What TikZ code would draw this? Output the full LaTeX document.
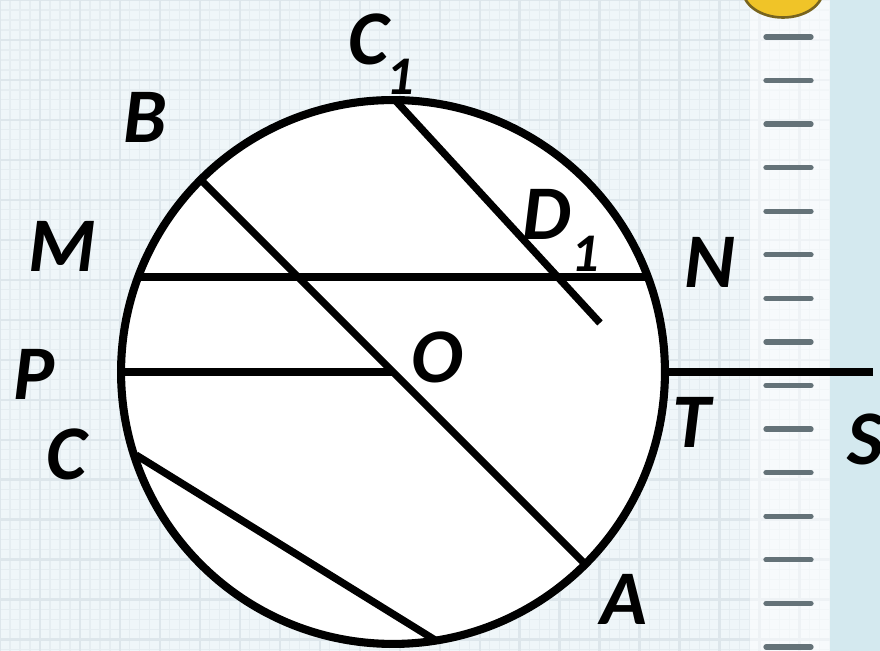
\documentclass[tikz,border=0pt]{standalone}
\usepackage{fontspec}
\setmainfont{Carlito}
\begin{document}
\begin{tikzpicture}[x=0.02cm, y=-0.02cm, line cap=round, line join=round,
    every node/.style={inner sep=0pt},
    ptlabel/.style={anchor=base, font=\fontsize{44}{50}\selectfont\bfseries\itshape},
    chord/.style={line width=4.2pt, line cap=butt}]
  \definecolor{paperBg}{RGB}{239,246,249}
  \definecolor{gridLine}{RGB}{229,237,241}
  \definecolor{gridMajor}{RGB}{221,230,235}
  \definecolor{stripBlue}{RGB}{212,233,239}
  \definecolor{dashGray}{RGB}{100,114,120}
  \definecolor{blobYellow}{RGB}{240,196,40}
  \definecolor{blobEdge}{RGB}{120,100,30}
  \newcommand{\subfont}{\fontsize{31}{31}\selectfont}
  \useasboundingbox (0,0) rectangle (880,651);
  % ==== notebook background ====
  \fill[paperBg] (0,0) rectangle (880,651);
  \draw[gridLine, line width=0.6pt, step=0.2cm] (0,0) grid (830,651);
  \draw[gridMajor, line width=1.6pt, step=0.8cm] (0,0) grid (830,651);
  \fill[white, opacity=0.5] (750,0) rectangle (830,651);
  \fill[stripBlue] (830,0) rectangle (880,651);
  \foreach \i in {0,...,14}{
    \draw[dashGray, line width=3pt] ({766},{37+43.57*\i}) -- ({811},{37+43.57*\i});
  }
  \fill[blobYellow, draw=blobEdge, line width=1.5pt] (783,-10) ellipse [x radius=0.8cm, y radius=0.55cm];
  % ==== circle and its points ====
  \coordinate (O) at (393,372);
  \coordinate (B) at (201,180);
  \coordinate (A) at (585,564);
  \coordinate (C1) at (395,100);
  \coordinate (D1) at (600,323);
  \coordinate (M) at (138,277);
  \coordinate (N) at (648,277);
  \coordinate (P) at (121,372);
  \coordinate (T) at (665,372);
  \coordinate (S) at (873,372);
  \coordinate (C) at (136,455);
  \coordinate (K) at (435,640);
  \fill[white] (O) circle [radius=5.44cm];
  % chords, radius, tangent
  \draw[chord] (B) -- (A);
  \draw[chord] (C1) -- (D1);
  \draw[chord] (M) -- (N);
  \draw[chord] (P) -- (O);
  \draw[chord] (C) -- (K);
  \draw[chord] (T) -- (S);
  \draw[line width=4.6pt] (O) circle [radius=5.44cm];
  % ==== labels ====
  \node[ptlabel, anchor=base west] (lC1) at (348,65) {C\kern-1pt\raisebox{-17pt}{\subfont 1}};
  \node[ptlabel, anchor=base west] (lD1) at (522,240) {D\kern0pt\raisebox{-18pt}{\subfont 1}};
  \node[ptlabel] (lB) at (145,143) {B};
  \node[ptlabel] (lM) at (62,272) {M};
  \node[ptlabel] (lN) at (710,288) {N};
  \node[ptlabel] (lO) at (437,383) {O};
  \node[ptlabel] (lP) at (34,400) {P};
  \node[ptlabel] (lC) at (67,480) {C};
  \node[ptlabel] (lT) at (692,448) {T};
  \node[ptlabel] (lS) at (865,465) {S};
  \node[ptlabel] (lA) at (624,625) {A};
\end{tikzpicture}
\end{document}
